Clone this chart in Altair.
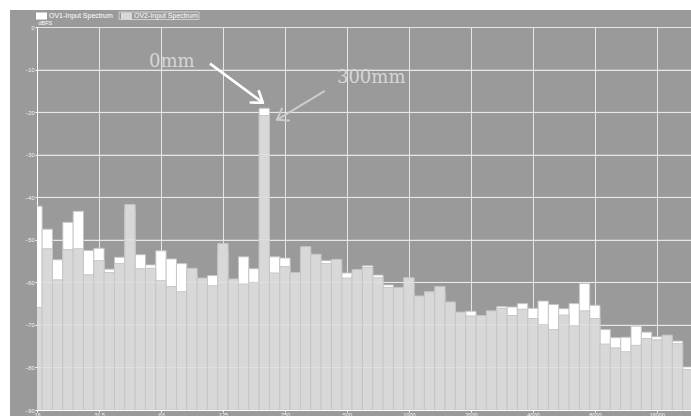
import json
import altair as alt
import pandas as pd

# ---- data (1/6-octave bands starting at 16 Hz) ----
ov1_db = [-42.1, -47.5, -54.7, -45.9, -43.3, -52.5, -52.0, -56.9, -54.1, -43.0,
          -53.5, -55.9, -52.6, -54.5, -55.6, -58.0, -60.5, -58.4, -52.5, -60.5,
          -54.0, -56.8, -19.1, -54.0, -54.3, -59.0, -53.0, -55.0, -54.9, -56.0,
          -57.8, -58.5, -56.1, -58.3, -60.6, -62.5, -60.5, -64.5, -63.5, -62.5,
          -66.0, -68.5, -66.8, -69.0, -68.0, -65.7, -65.8, -65.0, -66.1, -64.4,
          -65.2, -66.2, -65.0, -60.3, -65.4, -71.1, -73.0, -72.9, -70.3, -71.7,
          -72.8, -74.0, -73.8, -79.9]
ov2_db = [-65.9, -52.1, -59.4, -52.3, -52.1, -58.2, -54.9, -57.7, -55.6, -41.7,
          -56.8, -56.7, -59.6, -61.0, -62.2, -56.7, -59.0, -60.8, -50.9, -59.2,
          -60.4, -60.0, -20.8, -57.8, -56.3, -57.7, -51.6, -53.4, -55.6, -54.6,
          -59.0, -57.0, -56.5, -58.9, -61.2, -61.2, -58.9, -63.2, -62.2, -61.0,
          -64.6, -67.0, -67.9, -67.8, -66.7, -66.1, -67.8, -66.3, -68.5, -69.9,
          -71.1, -67.7, -70.2, -66.7, -68.5, -74.5, -75.4, -76.3, -74.8, -73.2,
          -73.5, -72.4, -74.4, -80.5]
series_names = ["OV1-Input Spectrum", "OV2-Input Spectrum"]
series_colors = ["#ffffff", "#d8d8d8"]

tick_freqs = [16, 32, 64, 128, 256, 512, 1024, 2048, 4096, 8192, 16384]
tick_labels = ["16", "31.5", "63", "125", "250", "500", "1000", "2000",
               "4000", "8000", "16000"]
db_ticks = [0, -10, -20, -30, -40, -50, -60, -70, -80, -90]

ann_text = ["0mm", "300mm"]
ann_freq = [56, 458]
ann_db = [-9.3, -13.1]

arrow_f0 = [110.7, 400.0]
arrow_db0 = [-8.6, -15.0]
arrow_f1 = [200.0, 234.0]
arrow_db1 = [-17.8, -21.8]
arrow_color = ["#ffffff", "#cccccc"]
arrow_width = [2.6, 2.0]
arrow_angle = [36, 149]

# ---- tables ----
centers = [16 * 2 ** (k / 6) for k in range(len(ov1_db))]
rows = []
for name, vals in zip(series_names, [ov1_db, ov2_db]):
    for f, v in zip(centers, vals):
        rows.append({"series": name, "freq": f,
                     "lo": f * 2 ** (-1 / 12), "hi": f * 2 ** (1 / 12), "db": v})
bars_df = pd.DataFrame(rows)
ann_df = pd.DataFrame({"label": ann_text, "f": ann_freq, "db": ann_db})
arr_df = pd.DataFrame({"f0": arrow_f0, "db0": arrow_db0, "f1": arrow_f1,
                       "db1": arrow_db1, "col": arrow_color,
                       "w": arrow_width, "ang": arrow_angle})
grid_df = pd.DataFrame({"db": db_ticks[1:-1]})

x_scale = alt.Scale(type="log", domain=[16, 24000])
y_scale = alt.Scale(domain=[-90, 0])
label_expr = json.dumps(tick_labels) + "[round(log(datum.value/16)/log(2))]"

FONT = "Liberation Sans"

x_axis = alt.Axis(values=tick_freqs, labelExpr=label_expr, grid=True,
                  gridColor="#e6e6e6", gridWidth=1, domainColor="#ffffff",
                  tickColor="#ffffff", tickSize=2, labelFontSize=5.5,
                  labelFont=FONT, labelColor="#f4f4f4", labelPadding=0,
                  labelOverlap=False, labelFlush=False, labelBound=False,
                  title=None)
y_axis = alt.Axis(values=db_ticks, grid=True, gridColor="#e6e6e6", gridWidth=1,
                  domainColor="#ffffff", tickColor="#ffffff", tickSize=2,
                  labelFontSize=5.5, labelFont=FONT, labelColor="#f4f4f4",
                  labelPadding=1, title="dBFS", titleAngle=0, titleAlign="left",
                  titleX=1, titleY=-3, titleFontSize=5.5, titleFont=FONT,
                  titleColor="#ffffff", titleFontWeight="normal",
                  titleBaseline="alphabetic")


def X(field):
    return alt.X(field, scale=x_scale, axis=x_axis, title=None)


def Y(field):
    return alt.Y(field, scale=y_scale, axis=y_axis, title="dBFS")


bars = alt.Chart(bars_df).mark_rect(clip=True, stroke="#c4c4c4", strokeWidth=0.9).encode(
    x=X("lo:Q"),
    x2="hi:Q",
    y=Y("db:Q"),
    y2=alt.datum(-90),
    color=alt.Color("series:N",
                    scale=alt.Scale(domain=series_names, range=series_colors),
                    legend=alt.Legend(title=None, orient="none", legendX=-1,
                                      legendY=-17, direction="horizontal",
                                      symbolType="M -1 -0.64 H 1 V 0.64 H -1 Z",
                                      symbolSize=121, symbolStrokeWidth=0,
                                      symbolOpacity=1, labelFontSize=7,
                                      labelFont=FONT, labelColor="#ffffff",
                                      labelOffset=2, columnPadding=8, padding=0)),
)

hgrid = alt.Chart(grid_df).mark_rule(color="#ffffff", opacity=0.25, strokeWidth=1).encode(
    y=Y("db:Q"),
)

texts = alt.Chart(ann_df).mark_text(font="DejaVu Serif", fontSize=18, color="#d6d6d6",
                                    align="left", baseline="alphabetic").encode(
    x=X("f:Q"),
    y=Y("db:Q"),
    text="label:N",
)

arrow_lines = alt.Chart(arr_df).mark_rule().encode(
    x=X("f0:Q"),
    y=Y("db0:Q"),
    x2="f1:Q",
    y2="db1:Q",
    stroke=alt.Stroke("col:N", scale=None),
    strokeWidth=alt.StrokeWidth("w:Q", scale=None),
)

arrow_heads = alt.Chart(arr_df).mark_point(shape="M -1 -0.7 L 0 0 L -1 0.7",
                                           filled=False, size=400, opacity=1,
                                           strokeCap="round", strokeJoin="round").encode(
    x=X("f1:Q"),
    y=Y("db1:Q"),
    stroke=alt.Stroke("col:N", scale=None),
    strokeWidth=alt.StrokeWidth("w:Q", scale=None),
    angle=alt.Angle("ang:Q", scale=None),
)

one = pd.DataFrame({"a": [0]})
white_top = alt.Chart(one).mark_rect(color="#ffffff").encode(
    x=alt.value(-37), x2=alt.value(654), y=alt.value(-27), y2=alt.value(-17))
white_left = alt.Chart(one).mark_rect(color="#ffffff").encode(
    x=alt.value(-37), x2=alt.value(-27), y=alt.value(-27), y2=alt.value(389))
legend_box = alt.Chart(one).mark_rect(fill=None, filled=False, stroke="#d0d0d0",
                                      strokeWidth=1).encode(
    x=alt.value(82), x2=alt.value(162), y=alt.value(-15), y2=alt.value(-7.5))

chart = alt.layer(white_top, white_left, legend_box, bars, hgrid, arrow_lines,
                  arrow_heads, texts).properties(
    width=654, height=383,
    padding={"left": 37, "top": 27, "right": 0, "bottom": 6},
    autosize="none",
).configure(background="#9a9a9a").configure_view(strokeWidth=0)

chart.save("out.html", embed_options={"renderer": "svg", "actions": False})
